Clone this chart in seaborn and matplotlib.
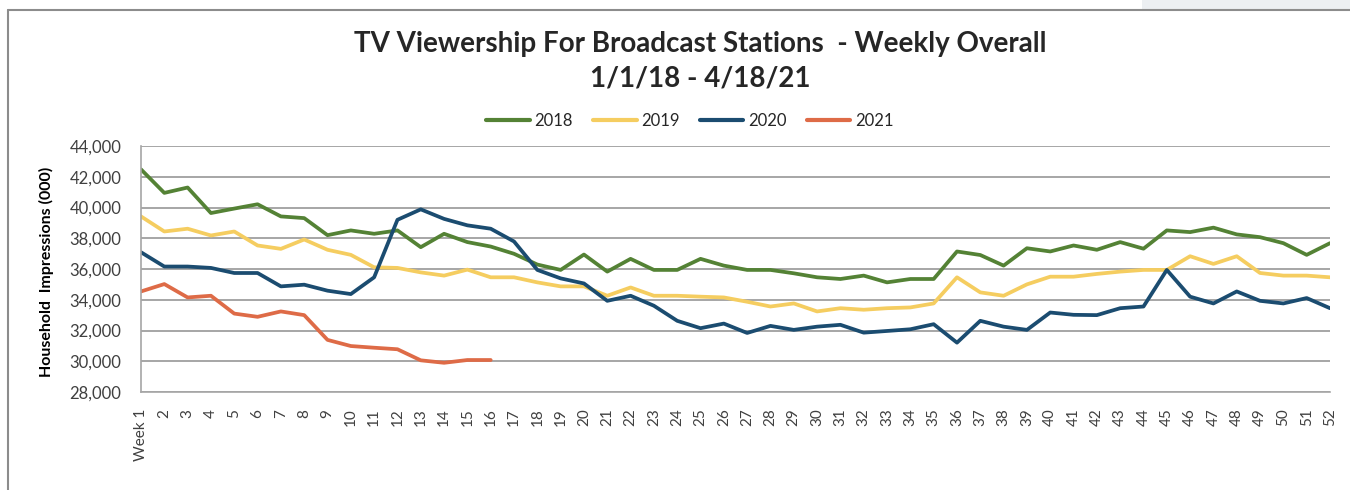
import pandas as pd
import seaborn as sns
import matplotlib.pyplot as plt
from matplotlib.ticker import FuncFormatter

# weekly household impressions (000)
weeks = list(range(1, 53))
week_labels = ['Week 1'] + [str(w) for w in weeks[1:]]

v2018 = [42480, 40950, 41300, 39640, 39930, 40210, 39420, 39310, 38200, 38510,
         38290, 38510, 37420, 38290, 37750, 37460, 36990, 36290, 35940, 36940,
         35830, 36660, 35940, 35940, 36660, 36220, 35940, 35940, 35720, 35460,
         35350, 35570, 35130, 35350, 35350, 37140, 36910, 36220, 37350, 37140,
         37530, 37250, 37750, 37320, 38510, 38400, 38690, 38250, 38070, 37680,
         36920, 37680]
v2019 = [39420, 38440, 38620, 38180, 38440, 37530, 37310, 37920, 37250, 36920,
         36110, 36070, 35780, 35570, 35960, 35460, 35460, 35130, 34870, 34870,
         34260, 34800, 34260, 34260, 34200, 34150, 33870, 33560, 33760, 33240,
         33450, 33350, 33450, 33500, 33760, 35460, 34480, 34260, 35000, 35500,
         35500, 35680, 35830, 35940, 35940, 36830, 36330, 36830, 35740, 35570,
         35570, 35460]
v2020 = [37090, 36160, 36160, 36070, 35740, 35740, 34870, 34980, 34590, 34370,
         35460, 39200, 39880, 39260, 38840, 38620, 37790, 35940, 35390, 35060,
         33930, 34260, 33610, 32630, 32150, 32450, 31840, 32300, 32040, 32250,
         32370, 31860, 31970, 32080, 32410, 31210, 32630, 32250, 32040, 33170,
         33020, 33000, 33450, 33560, 35940, 34200, 33760, 34540, 33930, 33760,
         34110, 33450]
v2021 = [34540, 35020, 34150, 34260, 33100, 32890, 33240, 33000, 31390, 30990,
         30880, 30780, 30060, 29900, 30080, 30080]

years = ['2018', '2019', '2020', '2021']
colors = ['#548235', '#F5CD60', '#1B4C70', '#DE6B47']

rows = []
for yr, vals in zip(years, [v2018, v2019, v2020, v2021]):
    for w, v in zip(weeks, vals):
        rows.append({'week': w, 'year': yr, 'impressions': v})
df = pd.DataFrame(rows)

sns.set_style('white')
plt.rcParams['font.family'] = ['Lato', 'DejaVu Sans']

fig = plt.figure(figsize=(13.5, 4.9), dpi=100)
ax = fig.add_axes([141 / 1350, 98 / 490, 1189 / 1350, 246 / 490])

sns.lineplot(data=df, x='week', y='impressions', hue='year',
             palette=dict(zip(years, colors)), linewidth=2.7, ax=ax,
             legend=False)

ax.set_xlim(1, 52)
ax.set_ylim(28000, 44000)
ax.set_yticks(range(28000, 44001, 2000))
ax.yaxis.set_major_formatter(FuncFormatter(lambda v, p: f'{int(v):,}'))
ax.set_xticks(weeks)
ax.set_xticklabels(week_labels, rotation=90, fontsize=11, color='#404040')
ax.tick_params(axis='y', labelsize=12, labelcolor='#404040', length=0, pad=14)
ax.tick_params(axis='x', length=0, pad=12)
ax.grid(axis='y', color='#A6A6A6', linewidth=1.4)
ax.set_axisbelow(True)
for s in ['top', 'right']:
    ax.spines[s].set_visible(False)
for s in ['left', 'bottom']:
    ax.spines[s].set_color('#A6A6A6')
    ax.spines[s].set_linewidth(1.2)
ax.set_xlabel('')
ax.set_ylabel('Household  Impressions (000)', fontsize=11.5, fontweight='bold',
              color='black')
ax.yaxis.set_label_coords(-0.073, 0.49)

# legend at top center
handles = [plt.Line2D([], [], color=c, linewidth=3) for c in colors]
fig.legend(handles, years, loc='center', bbox_to_anchor=(690 / 1350, 1 - 121 / 490),
           ncol=4, frameon=False, fontsize=12, handlelength=2.6,
           columnspacing=1.2, handletextpad=0.3)

fig.text(700 / 1350, 1 - 44 / 490,
         'TV Viewership For Broadcast Stations  - Weekly Overall',
         ha='center', va='center', fontsize=20, fontweight='bold', color='#262626')
fig.text(700 / 1350, 1 - 78 / 490, '1/1/18 - 4/18/21',
         ha='center', va='center', fontsize=20, fontweight='bold', color='#262626')

# outer frame and the light strip at the top right
fig.add_artist(plt.Rectangle((1142 / 1350, 1 - 9 / 490), 208 / 1350, 9 / 490,
                             transform=fig.transFigure, color='#ECEFF2', lw=0))
fig.add_artist(plt.Line2D([7.5 / 1350, 1], [1 - 10.5 / 490, 1 - 10.5 / 490],
                          transform=fig.transFigure, color='#8C8C8C', lw=1.5))
fig.add_artist(plt.Line2D([7.5 / 1350, 7.5 / 1350], [0, 1 - 10.5 / 490],
                          transform=fig.transFigure, color='#8C8C8C', lw=1.5))

fig.savefig('out.png', dpi=100)
